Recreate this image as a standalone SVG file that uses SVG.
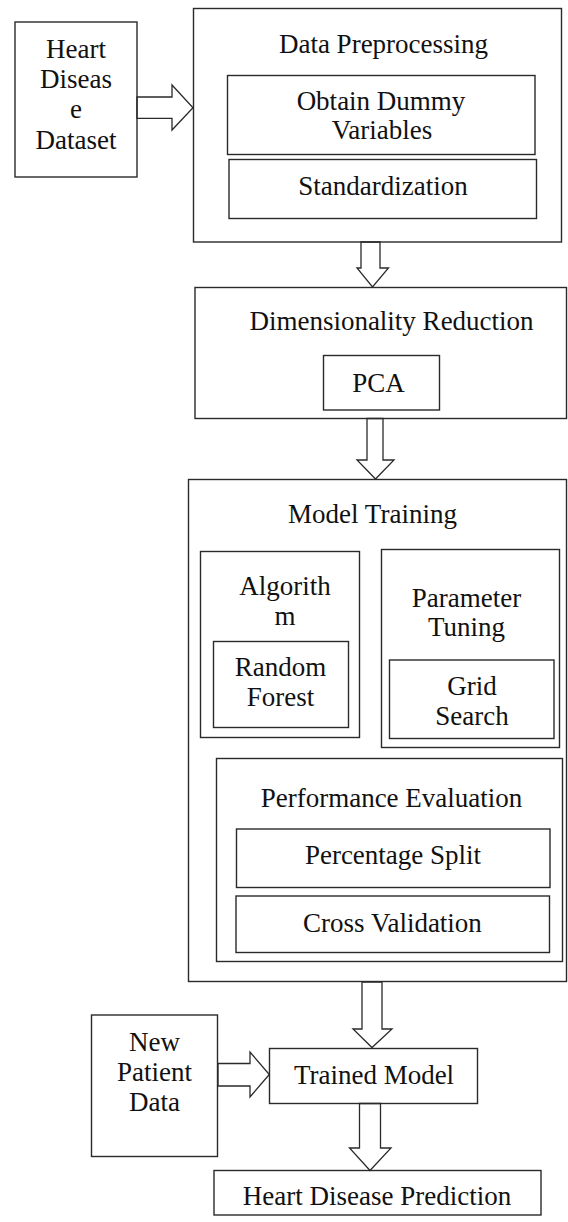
<svg xmlns="http://www.w3.org/2000/svg" width="568" height="1222" viewBox="0 0 568 1222">
<style>
.box{fill:none;stroke:#2a2a2a;stroke-width:1.4}
.arr{fill:#fff;stroke:#2a2a2a;stroke-width:1.3;stroke-linejoin:miter}
.t{font-family:"Liberation Serif","Times New Roman",serif;font-size:27px;fill:#111;text-anchor:middle}
</style>
<rect width="568" height="1222" fill="#fff"/>
<g id="connectors">
<polygon class="arr" points="137,97 172,97 172,85 193,107.7 172,130 172,118.3 137,118.3"/>
<polygon class="arr" points="361,242 380,242 380,268 388.5,268 372.5,287 357,268 361,268"/>
<polygon class="arr" points="367,418.5 383,418.5 383,460 394,460 375.5,479 357,460 367,460"/>
<polygon class="arr" points="362,982 382,982 382,1029 392,1029 372,1047.5 353,1029 362,1029"/>
<polygon class="arr" points="218,1063.5 250,1063.5 250,1052 269.3,1074.5 250,1097 250,1086 218,1086"/>
<polygon class="arr" points="359.5,1103.5 380.5,1103.5 380.5,1148 391,1148 370,1170.5 349.5,1148 359.5,1148"/>
</g>
<g id="heart-disease-dataset">
<rect class="box" x="15" y="22" width="122" height="155"/>
<text class="t" x="76" y="58">Heart</text>
<text class="t" x="76" y="88">Diseas</text>
<text class="t" x="76" y="118">e</text>
<text class="t" x="76" y="149">Dataset</text>
</g>
<g id="data-preprocessing">
<rect class="box" x="193.5" y="8.5" width="368" height="233.5"/>
<text class="t" x="383.5" y="53">Data Preprocessing</text>
</g>
<g id="obtain-dummy-variables">
<rect class="box" x="227.5" y="75.5" width="307.5" height="79"/>
<text class="t" x="381" y="110">Obtain Dummy</text>
<text class="t" x="382" y="139">Variables</text>
</g>
<g id="standardization">
<rect class="box" x="229" y="159.5" width="307.5" height="59"/>
<text class="t" x="383" y="195">Standardization</text>
</g>
<g id="dimensionality-reduction">
<rect class="box" x="195" y="287.5" width="371.5" height="131"/>
<text class="t" x="391.5" y="330">Dimensionality Reduction</text>
</g>
<g id="pca">
<rect class="box" x="323.5" y="355.5" width="116" height="54.5"/>
<text class="t" x="378.5" y="392">PCA</text>
</g>
<g id="model-training">
<rect class="box" x="188.5" y="479.5" width="378" height="502"/>
<text class="t" x="372.5" y="523">Model Training</text>
</g>
<g id="algorithm">
<rect class="box" x="200.5" y="551.5" width="159" height="186"/>
<text class="t" x="285" y="595">Algorith</text>
<text class="t" x="285" y="625">m</text>
</g>
<g id="random-forest">
<rect class="box" x="213.5" y="641.5" width="135" height="86"/>
<text class="t" x="280.5" y="676">Random</text>
<text class="t" x="280.5" y="706">Forest</text>
</g>
<g id="parameter-tuning">
<rect class="box" x="381.5" y="549.5" width="178" height="198"/>
<text class="t" x="466.5" y="607">Parameter</text>
<text class="t" x="466.5" y="636">Tuning</text>
</g>
<g id="grid-search">
<rect class="box" x="389.5" y="660" width="164.5" height="78.5"/>
<text class="t" x="472" y="695">Grid</text>
<text class="t" x="472" y="725">Search</text>
</g>
<g id="performance-evaluation">
<rect class="box" x="216.5" y="758.5" width="346" height="203"/>
<text class="t" x="391.5" y="807">Performance Evaluation</text>
</g>
<g id="percentage-split">
<rect class="box" x="236.5" y="829" width="313.5" height="58.5"/>
<text class="t" x="393" y="863.5">Percentage Split</text>
</g>
<g id="cross-validation">
<rect class="box" x="236" y="896" width="313.5" height="56.5"/>
<text class="t" x="392.5" y="932">Cross Validation</text>
</g>
<g id="new-patient-data">
<rect class="box" x="91.5" y="1015" width="126" height="141.5"/>
<text class="t" x="154.5" y="1051">New</text>
<text class="t" x="154.5" y="1081">Patient</text>
<text class="t" x="154.5" y="1111">Data</text>
</g>
<g id="trained-model">
<rect class="box" x="269.5" y="1048.5" width="208" height="55"/>
<text class="t" x="374" y="1083.5">Trained Model</text>
</g>
<g id="heart-disease-prediction">
<rect class="box" x="214" y="1170.5" width="327" height="44.5"/>
<text class="t" x="377" y="1205">Heart Disease Prediction</text>
</g>
</svg>
